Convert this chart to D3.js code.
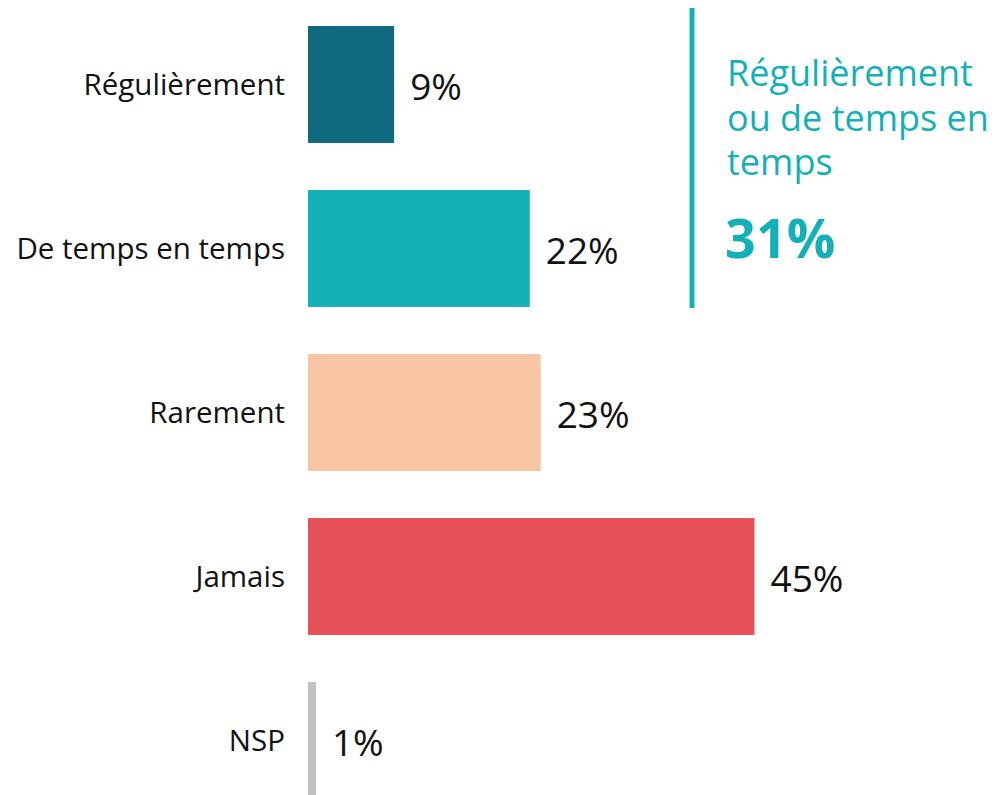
<!DOCTYPE html>
<html>
<meta charset="utf-8">
<title>Fréquence</title>
<style>
	body {
		margin: 0;
		background: #fff;
		font-family: "Open Sans", sans-serif;
	}

	.cat {
		font-size: 29.5px;
		fill: #111;
	}

	.val {
		font-size: 37px;
		fill: #111;
	}

	.note {
		fill: #14b0b8;
	}
</style>

<body>
	<svg id="chart"></svg>
	<script src="https://cdnjs.cloudflare.com/ajax/libs/d3/7.8.5/d3.min.js"></script>
	<script>
		var categories = ["Régulièrement", "De temps en temps", "Rarement", "Jamais", "NSP"];
		// bar lengths (unrounded), labels as printed
		var values = [8.7, 22.4, 23.5, 45.1, 0.8];
		var labels = ["9%", "22%", "23%", "45%", "1%"];
		var colors = ["#0f6a7f", "#14b0b8", "#f8c5a4", "#e65159", "#c0c0c0"];

		var noteLines = ["Régulièrement", "ou de temps en", "temps"];
		var noteTotal = "31%";

		var width = 999,
			height = 795;

		var svg = d3.select("#chart")
			.attr("width", width)
			.attr("height", height);

		var x = d3.scaleLinear()
			.domain([0, 45])
			.range([308, 753.5]);

		var y = d3.scaleBand()
			.domain(categories)
			.range([2.5, 822.5])
			.paddingInner(0.287)
			.paddingOuter(0.1435);

		var bars = svg.append("g");

		bars.selectAll("rect")
			.data(values)
			.enter().append("rect")
			.attr("x", x(0))
			.attr("y", function (d, i) { return y(categories[i]); })
			.attr("width", function (d) { return x(d) - x(0); })
			.attr("height", y.bandwidth())
			.style("fill", function (d, i) { return colors[i]; });

		svg.append("g").selectAll("text")
			.data(categories)
			.enter().append("text")
			.attr("class", "cat")
			.attr("x", x(0) - 23)
			.attr("y", function (d) { return y(d) + y.bandwidth() / 2; })
			.attr("dy", ".35em")
			.attr("text-anchor", "end")
			.text(function (d) { return d; });

		svg.append("g").selectAll("text")
			.data(values)
			.enter().append("text")
			.attr("class", "val")
			.attr("x", function (d) { return x(d) + 16; })
			.attr("y", function (d, i) { return y(categories[i]) + y.bandwidth() / 2 + 3; })
			.attr("dy", ".35em")
			.text(function (d, i) { return labels[i]; });

		// bracket line next to the first two bars
		svg.append("line")
			.attr("x1", 692)
			.attr("x2", 692)
			.attr("y1", 8)
			.attr("y2", y(categories[1]) + y.bandwidth() + 1)
			.style("stroke", "#14b0b8")
			.style("stroke-width", 5);

		var note = svg.append("text")
			.attr("class", "note")
			.attr("x", 727)
			.attr("y", 86);

		noteLines.forEach(function (t, i) {
			note.append("tspan")
				.attr("x", 727)
				.attr("dy", i ? 44.5 : 0)
				.style("font-size", "36px")
				.text(t);
		});

		svg.append("text")
			.attr("class", "note")
			.attr("x", 725)
			.attr("y", 258)
			.style("font-size", "54px")
			.style("font-weight", "bold")
			.text(noteTotal);
	</script>
</body>

</html>
